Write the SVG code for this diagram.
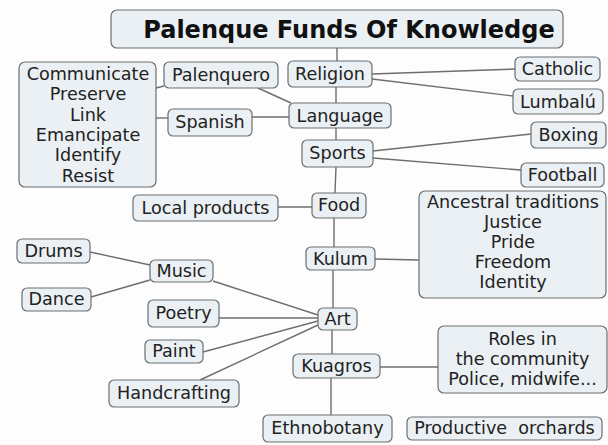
<svg xmlns="http://www.w3.org/2000/svg" width="608" height="445" viewBox="0 0 608 445">
<style>
.b{fill:#eaf0f3;stroke:#6b6f72;stroke-width:1.2}
.t{font-family:"DejaVu Sans",Verdana,sans-serif;font-size:17.6px;fill:#222;text-anchor:middle}
.h{font-family:"DejaVu Sans",Verdana,sans-serif;font-size:24px;font-weight:bold;fill:#111;text-anchor:middle}
.c line{stroke:#6e6e6e;stroke-width:1.4}
</style>
<rect width="608" height="445" fill="#fdfdfd"/>
<g class="c" id="connectors">
<line x1="337" y1="48" x2="337" y2="61"/>
<line x1="336" y1="87" x2="336" y2="103"/>
<line x1="336" y1="128" x2="336" y2="140"/>
<line x1="336" y1="167" x2="335" y2="193"/>
<line x1="334" y1="218" x2="334" y2="247"/>
<line x1="333" y1="270" x2="333" y2="308"/>
<line x1="332" y1="330" x2="332" y2="354"/>
<line x1="331" y1="378" x2="331" y2="415"/>
<line x1="372" y1="74" x2="515" y2="69"/>
<line x1="372" y1="79" x2="513" y2="96"/>
<line x1="373" y1="151" x2="531" y2="134"/>
<line x1="373" y1="158" x2="521" y2="170"/>
<line x1="258" y1="88" x2="291" y2="103"/>
<line x1="156" y1="88" x2="164" y2="86"/>
<line x1="156" y1="118" x2="168" y2="118"/>
<line x1="252" y1="117" x2="289" y2="117"/>
<line x1="278" y1="207" x2="312" y2="207"/>
<line x1="375" y1="259" x2="419" y2="260"/>
<line x1="380" y1="367" x2="438" y2="367"/>
<line x1="90" y1="252" x2="150" y2="265"/>
<line x1="91" y1="297" x2="150" y2="280"/>
<line x1="213" y1="281" x2="318" y2="315"/>
<line x1="219" y1="318" x2="318" y2="318"/>
<line x1="203" y1="352" x2="318" y2="321"/>
<line x1="200" y1="380" x2="318" y2="325"/>
</g>
<g id="title"><rect class="b" x="111" y="10" width="452" height="38" rx="6"/><text class="h" x="349" y="38">Palenque Funds Of Knowledge</text></g>
<g id="purposes"><rect class="b" x="19" y="62" width="137" height="125" rx="6"/>
<text class="t" x="88" y="80">Communicate</text>
<text class="t" x="88" y="100.3">Preserve</text>
<text class="t" x="88" y="120.6">Link</text>
<text class="t" x="88" y="141">Emancipate</text>
<text class="t" x="88" y="161.2">Identify</text>
<text class="t" x="88" y="181.5">Resist</text></g>
<g id="palenquero"><rect class="b" x="164" y="62" width="114" height="26" rx="5"/><text class="t" x="221" y="81">Palenquero</text></g>
<g id="spanish"><rect class="b" x="168" y="109" width="84" height="27" rx="5"/><text class="t" x="210" y="128">Spanish</text></g>
<g id="religion"><rect class="b" x="288" y="61" width="84" height="26" rx="5"/><text class="t" x="330" y="80">Religion</text></g>
<g id="language"><rect class="b" x="289" y="103" width="102" height="25" rx="5"/><text class="t" x="340" y="122">Language</text></g>
<g id="sports"><rect class="b" x="302" y="140" width="71" height="27" rx="5"/><text class="t" x="337.5" y="159">Sports</text></g>
<g id="catholic"><rect class="b" x="515" y="57" width="85" height="24" rx="5"/><text class="t" x="557.5" y="75">Catholic</text></g>
<g id="lumbalu"><rect class="b" x="513" y="89" width="90" height="25" rx="5"/><text class="t" x="558" y="108">Lumbalú</text></g>
<g id="boxing"><rect class="b" x="531" y="122" width="75" height="26" rx="5"/><text class="t" x="568.5" y="141">Boxing</text></g>
<g id="football"><rect class="b" x="521" y="163" width="83" height="24" rx="5"/><text class="t" x="562.5" y="181">Football</text></g>
<g id="food"><rect class="b" x="312" y="193" width="54" height="25" rx="5"/><text class="t" x="339" y="211">Food</text></g>
<g id="local-products"><rect class="b" x="133" y="195" width="145" height="26" rx="5"/><text class="t" x="205.5" y="214">Local products</text></g>
<g id="values"><rect class="b" x="419" y="191" width="187" height="107" rx="6"/>
<text class="t" x="513" y="208">Ancestral traditions</text>
<text class="t" x="513" y="228">Justice</text>
<text class="t" x="513" y="248">Pride</text>
<text class="t" x="513" y="268">Freedom</text>
<text class="t" x="513" y="288">Identity</text></g>
<g id="kulum"><rect class="b" x="306" y="247" width="69" height="23" rx="5"/><text class="t" x="340.5" y="265">Kulum</text></g>
<g id="art"><rect class="b" x="318" y="308" width="39" height="22" rx="5"/><text class="t" x="337.5" y="325">Art</text></g>
<g id="kuagros"><rect class="b" x="293" y="354" width="87" height="24" rx="5"/><text class="t" x="336.5" y="372">Kuagros</text></g>
<g id="roles"><rect class="b" x="438" y="326" width="169" height="67" rx="6"/>
<text class="t" x="522.5" y="345">Roles in</text>
<text class="t" x="522.5" y="365">the community</text>
<text class="t" x="522.5" y="385">Police, midwife...</text></g>
<g id="ethnobotany"><rect class="b" x="263" y="415" width="129" height="27" rx="5"/><text class="t" x="327.5" y="434">Ethnobotany</text></g>
<g id="orchards"><rect class="b" x="407" y="417" width="195" height="23" rx="5"/><text class="t" x="504.5" y="434" xml:space="preserve">Productive  orchards</text></g>
<g id="drums"><rect class="b" x="17" y="239" width="73" height="24" rx="5"/><text class="t" x="53.5" y="257">Drums</text></g>
<g id="dance"><rect class="b" x="22" y="288" width="69" height="23" rx="5"/><text class="t" x="56.5" y="305">Dance</text></g>
<g id="music"><rect class="b" x="150" y="260" width="63" height="22" rx="5"/><text class="t" x="181.5" y="277">Music</text></g>
<g id="poetry"><rect class="b" x="148" y="300" width="71" height="27" rx="5"/><text class="t" x="183.5" y="319">Poetry</text></g>
<g id="paint"><rect class="b" x="145" y="340" width="58" height="23" rx="5"/><text class="t" x="174" y="357">Paint</text></g>
<g id="handcrafting"><rect class="b" x="109" y="380" width="130" height="27" rx="5"/><text class="t" x="174" y="399">Handcrafting</text></g>
</svg>
